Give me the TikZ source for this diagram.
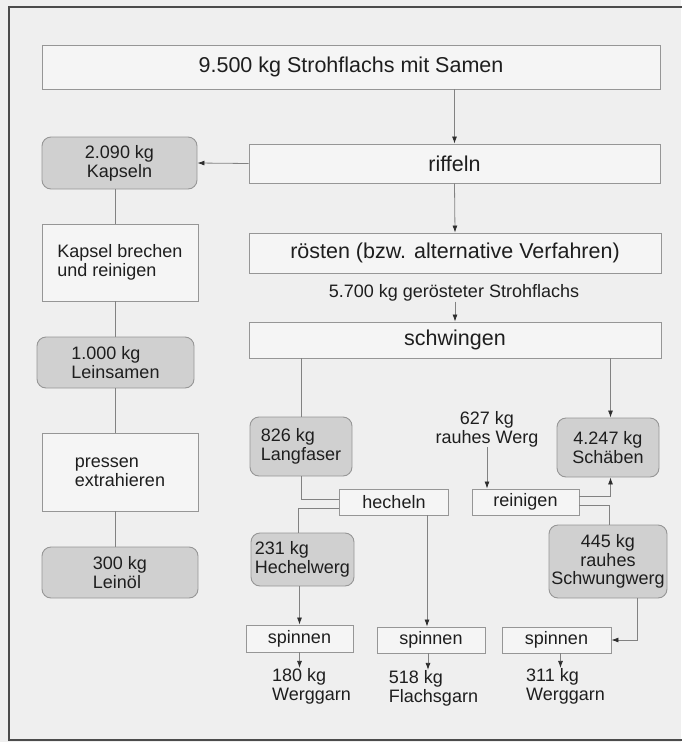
\documentclass[tikz,border=0pt]{standalone}
\usepackage{fontspec}
\setmainfont{Liberation Sans}
\usetikzlibrary{arrows.meta}
\definecolor{bgc}{RGB}{239,239,239}
\definecolor{boxfill}{RGB}{245,245,245}
\definecolor{roundfill}{RGB}{208,208,208}
\definecolor{edgec}{RGB}{150,150,150}
\definecolor{linec}{RGB}{130,130,130}
\definecolor{tipc}{RGB}{45,45,45}
\definecolor{textc}{RGB}{30,30,30}
\definecolor{framec}{RGB}{75,75,75}
\begin{document}
\begin{tikzpicture}[x=1pt,y=-1pt,
  bigtext/.style={font=\fontsize{21.5}{25}\selectfont},
  smalltext/.style={font=\fontsize{18}{19}\selectfont},
  rbox/.style={draw=edgec, fill=boxfill, line width=0.9pt, inner sep=0pt, text=textc, align=left},
  gbox/.style={draw=edgec, fill=roundfill, rounded corners=9pt, line width=0.9pt, inner sep=0pt, text=textc, align=left, smalltext},
  lbl/.style={inner sep=0pt, text=textc, smalltext},
  conn/.style={draw=linec, line width=0.8pt},
  arr/.style={conn, -{Latex[length=7pt,width=5pt,color=tipc]}},
]
\useasboundingbox (0,0) rectangle (681,742);
\fill[bgc] (0,0) rectangle (681,742);
\draw[framec, line width=1.3pt] (690,7) -- (9,7) -- (9,740) -- (690,740);

% main column
\node[rbox, bigtext, minimum width=618pt, minimum height=44pt] (top) at (351,67) {9.500 kg Strohflachs mit Samen};
\node[rbox, bigtext, minimum width=411pt, minimum height=39pt] (riffeln) at (454.5,163.5) {riffeln};
\node[rbox, bigtext, minimum width=412pt, minimum height=40pt] (roest) at (455,253) {rösten (bzw. alternative Verfahren)};
\node[lbl] (gerost) at (454,293) {5.700 kg gerösteter Strohflachs};
\node[rbox, bigtext, minimum width=412pt, minimum height=36pt] (schwingen) at (455,340) {schwingen};

% left column
\node[gbox, minimum width=155pt, minimum height=52pt, align=center] (kapseln) at (119.5,163) {2.090 kg\\Kapseln};
\node[rbox, smalltext, minimum width=156pt, minimum height=77pt] (brechen) at (120,262.5) {Kapsel brechen\\und reinigen};
\node[gbox, minimum width=157pt, minimum height=51pt] (leinsamen) at (115.5,362.5) {1.000 kg\\Leinsamen};
\node[rbox, smalltext, minimum width=156pt, minimum height=78pt] (pressen) at (120,472) {pressen\\extrahieren};
\node[gbox, minimum width=156pt, minimum height=51pt] (leinoel) at (120,572.5) {300 kg\\Leinöl};

% fibre part
\node[gbox, minimum width=102pt, minimum height=59pt] (langfaser) at (301,446.5) {826 kg\\Langfaser};
\node[gbox, minimum width=102pt, minimum height=59pt, align=center] (schaeben) at (608,447.5) {4.247 kg\\Schäben};
\node[lbl, align=center] (werg) at (487,429) {627 kg\\rauhes Werg};
\node[rbox, smalltext, minimum width=109pt, minimum height=26pt] (hecheln) at (394,502) {hecheln};
\node[rbox, smalltext, minimum width=107pt, minimum height=26pt] (reinigen) at (525.5,502) {reinigen};
\node[gbox, minimum width=103pt, minimum height=53pt] (hechelwerg) at (302.5,559.5) {231 kg\\Hechelwerg};
\node[gbox, minimum width=118pt, minimum height=73pt, align=center, font=\fontsize{18}{18.5}\selectfont] (schwungwerg) at (608,561.5) {445 kg\\rauhes\\Schwungwerg};
\node[rbox, smalltext, minimum width=107pt, minimum height=27pt] (spinnenA) at (299.5,638.5) {spinnen};
\node[rbox, smalltext, minimum width=108pt, minimum height=26pt] (spinnenB) at (431,640) {spinnen};
\node[rbox, smalltext, minimum width=109pt, minimum height=26pt] (spinnenC) at (556.5,640) {spinnen};
\node[lbl, align=left] (outA) at (311.5,686) {180 kg\\Werggarn};
\node[lbl, align=left] (outB) at (433.5,688) {518 kg\\Flachsgarn};
\node[lbl, align=left] (outC) at (565.5,686) {311 kg\\Werggarn};

% main flow
\draw[arr] (riffeln.north |- top.south) -- (riffeln.north);
\draw[arr] (riffeln.south) -- (roest.north);
\draw[arr] (riffeln.west) -- (kapseln.east);
\draw[arr] (gerost.south -| schwingen.north) -- (schwingen.north);

% left column connectors
\draw[conn] (kapseln.south -| leinsamen.center) -- (brechen.north -| leinsamen.center);
\draw[conn] (brechen.south -| leinsamen.center) -- (leinsamen.north);
\draw[conn] (leinsamen.south) -- (pressen.north -| leinsamen.center);
\draw[conn] (pressen.south -| leinsamen.center) -- (leinoel.north -| leinsamen.center);

% fibre connectors
\draw[conn] (langfaser.north |- schwingen.south) -- (langfaser.north);
\draw[conn] (langfaser.south) |- ([yshift=3pt]hecheln.west);
\draw[conn] ([yshift=-6pt]hecheln.west) -| ([xshift=-4pt]hechelwerg.north);
\draw[arr] (hechelwerg.south -| spinnenA.north) -- (spinnenA.north);
\draw[arr] ([xshift=-4pt]spinnenB.north |- hecheln.south) -- ([xshift=-4pt]spinnenB.north);
\draw[arr] ([xshift=2.5pt]schaeben.north |- schwingen.south) -- ([xshift=2.5pt]schaeben.north);
\draw[arr] (werg.south) -- (werg.south |- reinigen.north);
\draw[arr] ([yshift=6pt]reinigen.east) -| ([xshift=2.5pt]schaeben.south);
\draw[conn] ([yshift=-3pt]reinigen.east) -| ([xshift=1pt]schwungwerg.north);
\draw[arr] ([xshift=29pt]schwungwerg.south) |- (spinnenC.east);

% outputs
\draw[arr] (spinnenA.south) -- (spinnenA.south |- outA.north);
\draw[arr] ([xshift=-3pt]spinnenB.south) -- ([xshift=-3pt]spinnenB.south |- outB.north);
\draw[arr] ([xshift=4pt]spinnenC.south) -- ([xshift=4pt]spinnenC.south |- outC.north);
\end{tikzpicture}
\end{document}
